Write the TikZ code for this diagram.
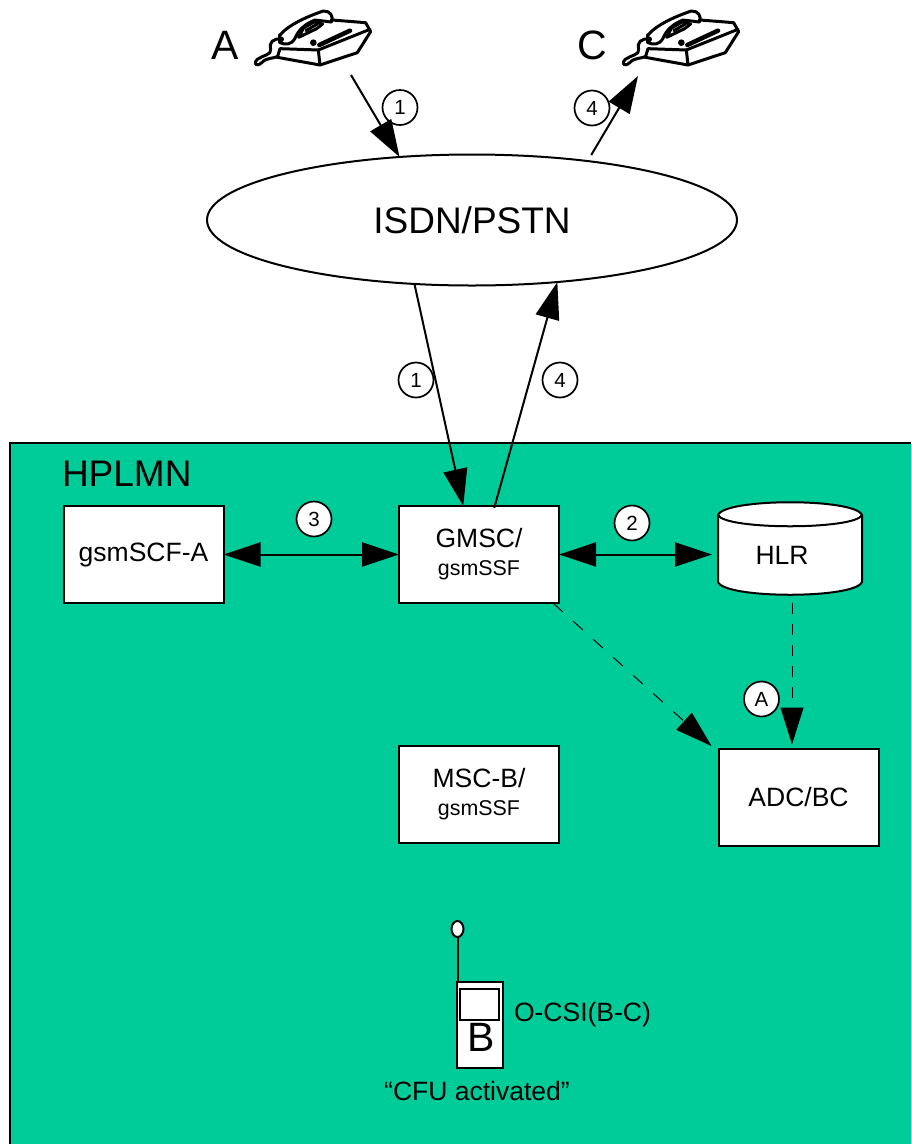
\documentclass[tikz,border=0pt]{standalone}
\usepackage{fontspec}
\setmainfont{Liberation Sans}
\usetikzlibrary{arrows.meta,shapes.geometric}
\definecolor{plmn}{RGB}{0,204,153}
\tikzset{
  outline/.style={draw=black,line width=2pt},
  box/.style={outline,fill=white,minimum width=160pt,minimum height=97pt,inner sep=0pt,outer sep=0pt,align=center,font=\fontsize{26.5pt}{30pt}\selectfont},
  num/.style={circle,draw=black,line width=1.7pt,fill=white,minimum size=35pt,inner sep=0pt,font=\fontsize{20.5pt}{24pt}\selectfont},
  label/.style={inner sep=0pt,outer sep=0pt},
  big/.style={font=\fontsize{37pt}{40pt}\selectfont},
  mid/.style={font=\fontsize{26.5pt}{30pt}\selectfont},
  flow/.style={line width=2pt,-{Triangle[length=37pt,width=24pt]}},
  both/.style={line width=2pt,{Triangle[length=37pt,width=24pt]}-{Triangle[length=37pt,width=24pt]}},
  dashflow/.style={line width=1pt,-{Triangle[length=37pt,width=23pt]}},
  spot/.style={inner sep=0pt,outer sep=0pt,minimum size=0pt},
  phone/.style={line width=3pt,line join=round,line cap=round}
}
\newcommand{\smallsub}[1]{{\fontsize{21.4pt}{24pt}\selectfont #1}}
\newcommand{\desk}[1]{%
\begin{scope}[shift={(#1,0)},x=0.3333pt,y=-0.3333pt,phone]
  \draw (232,172) -- (360,195) -- (472,158) -- (512,95) -- (497,68) -- (396,60);
  \draw (360,195) -- (355,150) -- (510,88);
  \draw (232,172) -- (240,146) -- (355,150);
  \draw (240,105) .. controls (265,75) and (320,50) .. (370,33)
        .. controls (390,32) and (402,48) .. (394,66);
  \draw (394,66) -- (345,60) .. controls (315,72) and (295,90) .. (285,115)
        .. controls (275,135) and (255,135) .. (240,128);
  \draw (240,105) -- (240,128);
  \draw (296,112) -- (350,86) -- (368,72) -- (342,66) -- (310,85) -- cycle;
  \draw (318,92) -- (352,72);
  \draw[line width=4.5pt] (358,135) -- (450,92);
  \fill (340,128) circle (10);
  \fill (243,118) circle (9);
  \draw (245,118) .. controls (220,112) and (205,130) .. (212,148)
        .. controls (215,165) and (190,165) .. (172,178)
        .. controls (158,192) and (170,202) .. (185,188)
        .. controls (200,172) and (220,176) .. (232,170);
\end{scope}}
\begin{document}
\begin{tikzpicture}[x=1pt,y=-1pt]
\useasboundingbox (0,0) rectangle (911,1144);
\fill[white] (0,0) rectangle (911,1144);
% operator area
\fill[plmn] (10,443) rectangle (911,1144);
\draw[line width=2pt] (10,1144) -- (10,443) -- (911,443);
\node[label,big,anchor=west] (hplmn) at (62,474) {HPLMN};
% network cloud
\node[ellipse,outline,fill=white,minimum width=530pt,minimum height=131pt,inner sep=0pt,outer sep=0pt,big] (net) at (472,220) {ISDN/PSTN};
% telephones
\desk{200}
\desk{568}
\node[label,font=\fontsize{41pt}{44pt}\selectfont] (labA) at (225,45) {A};
\node[label,font=\fontsize{41pt}{44pt}\selectfont] (labC) at (592,45) {C};
\node[spot] (phoneA) at (351,75) {};
\node[spot] (phoneC) at (638,76) {};
% boxes
\node[box] (scf) at (143.5,554.5) {gsmSCF-A};
\node[box] (gmsc) at (479,554.5) {GMSC/\\[-2pt]\smallsub{gsmSSF}};
\node[box] (msc) at (479,794) {MSC-B/\\[-2pt]\smallsub{gsmSSF}};
\node[box] (adc) at (798.5,797) {ADC/BC};
% HLR cylinder
\path[outline,fill=white] (718,515) .. controls (725,498) and (855,498) .. (862,515)
  -- (862,582) .. controls (855,599) and (725,599) .. (718,582) -- cycle;
\draw[outline] (718,515) .. controls (725,530) and (855,530) .. (862,515);
\node[spot,minimum width=144pt,minimum height=93pt] (hlr) at (790,548.5) {};
\node[spot] (hlrfoot) at (792,603) {};
\node[label,mid] (hlrtext) at (782,555) {HLR};
% mobile
\node[ellipse,draw=black,line width=2pt,fill=white,minimum width=12pt,minimum height=16pt,inner sep=0pt,outer sep=0pt] (aerial) at (457.5,929) {};
\node[draw=black,line width=2pt,fill=white,minimum width=46pt,minimum height=86pt,inner sep=0pt,outer sep=0pt] (mobile) at (480,1025) {};
\node[draw=black,line width=2pt,fill=white,minimum width=39pt,minimum height=31pt,inner sep=0pt,outer sep=0pt] (screen) at (479.5,1004.5) {};
\node[label,font=\fontsize{41pt}{44pt}\selectfont] (labB) at (481,1037) {B};
\draw[line width=2pt] (aerial.south) -- (aerial.south |- mobile.north);
\node[label,mid,anchor=base west] (ocsi) at (514,1021) {O-CSI(B-C)};
\node[label,mid] (cfu) at (477,1091) {“CFU activated”};
% step numbers
\node[num] (n1a) at (400,107.5) {1};
\node[num] (n4a) at (592,108) {4};
\node[num] (n1b) at (416,380) {1};
\node[num] (n4b) at (560,380) {4};
\node[num] (n3) at (314,519) {3};
\node[num] (n2) at (632,523) {2};
\node[num] (nA) at (761.5,699) {A};
% connectors
\draw[flow] (phoneA) -- (net.139.6);
\draw[flow,shorten <=7pt] (net.27.2) -- (phoneC);
\draw[flow] (net.228.3) -- (gmsc.108.2);
\draw[flow,shorten <=-2pt] (gmsc.72.8) -- (net.324);
\draw[both] (scf) -- (gmsc);
\draw[both,shorten >=6pt] (gmsc.east) -- (gmsc.east -| hlr.west);
\draw[dashflow,dash pattern=on 13pt off 14pt] ([xshift=-6pt]gmsc.south east) -- ([shift={(-7,-2.5)}]adc.north west);
\draw[dashflow,dash pattern=on 11pt off 10pt,shorten >=4pt] (hlrfoot) -- (hlrfoot |- adc.north);
\end{tikzpicture}
\end{document}
